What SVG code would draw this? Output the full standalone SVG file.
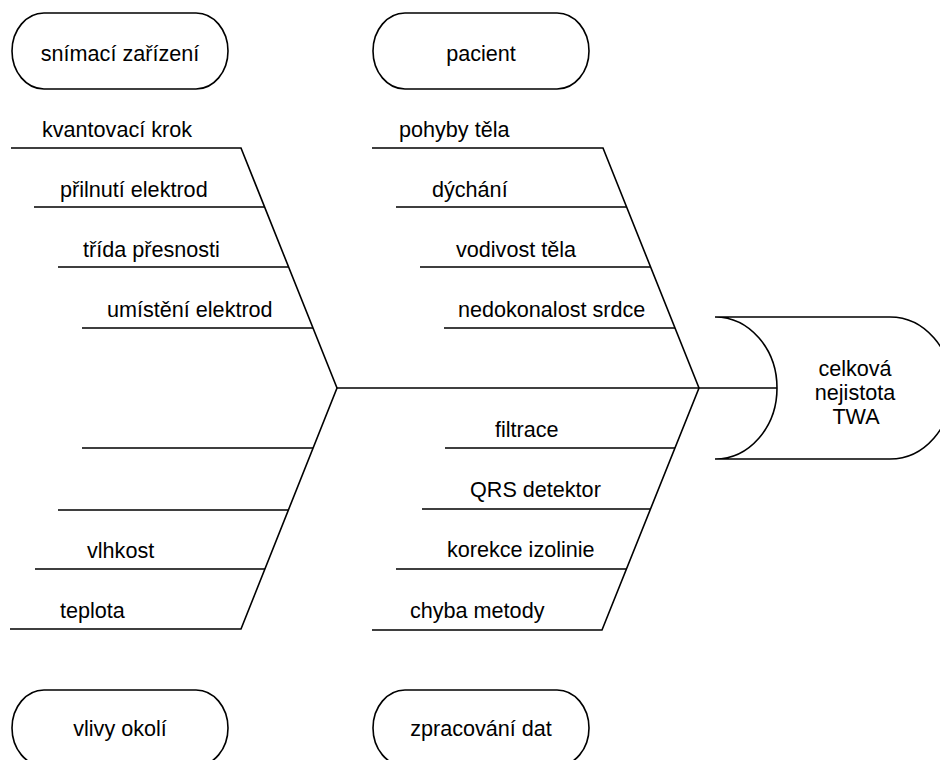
<svg xmlns="http://www.w3.org/2000/svg" width="940" height="760" viewBox="0 0 940 760">
<style>
.s{fill:none;stroke:#000;stroke-width:1.6;stroke-linejoin:miter}
.n{fill:#fff;stroke:#000;stroke-width:1.6}
text{font-family:"Liberation Sans",Arial,sans-serif;font-size:21.6px;fill:#000}
.c{text-anchor:middle}
</style>
<rect width="940" height="760" fill="#fff"/>
<g id="connectors" class="s">
<path d="M337 388H777"/>
<path d="M11 148H241L337 388L241 629H10"/>
<path d="M34 207H265M58 267H289M82 328H313"/>
<path d="M82 448H313M58 510H289M35 569H265"/>
<path d="M372 148H603L699 388L602 630H372"/>
<path d="M396 207H627M420 267H651M444 328H675"/>
<path d="M445 448H675M422 509H651M396 569H627"/>
</g>
<g id="labels">
<text x="42" y="137">kvantovací krok</text>
<text x="60" y="197">přilnutí elektrod</text>
<text x="83" y="257">třída přesnosti</text>
<text x="107" y="317">umístění elektrod</text>
<text x="399" y="137">pohyby těla</text>
<text x="432" y="197">dýchání</text>
<text x="456" y="257">vodivost těla</text>
<text x="458" y="317">nedokonalost srdce</text>
<text x="87" y="558">vlhkost</text>
<text x="60" y="618">teplota</text>
<text x="495" y="437">filtrace</text>
<text x="470" y="497">QRS detektor</text>
<text x="447" y="557">korekce izolinie</text>
<text x="410" y="618">chyba metody</text>
</g>
<g id="snimaci-zarizeni">
<rect class="n" x="12" y="13" width="216" height="76" rx="32" ry="38"/>
<text class="c" x="120" y="61">snímací zařízení</text>
</g>
<g id="pacient">
<rect class="n" x="373" y="13" width="216" height="76" rx="32" ry="38"/>
<text class="c" x="481" y="61">pacient</text>
</g>
<g id="vlivy-okoli">
<rect class="n" x="12" y="690" width="216" height="76" rx="32" ry="38"/>
<text class="c" x="120" y="736">vlivy okolí</text>
</g>
<g id="zpracovani-dat">
<rect class="n" x="373" y="690" width="216" height="76" rx="32" ry="38"/>
<text class="c" x="481" y="736">zpracování dat</text>
</g>
<g id="celkova-nejistota">
<path class="n" d="M715 317H890A62 71 0 0 1 890 459H715A62 71 0 0 0 715 317Z"/>
<text class="c" x="855" y="376">celková</text>
<text class="c" x="855" y="400">nejistota</text>
<text class="c" x="856" y="424">TWA</text>
</g>
</svg>
